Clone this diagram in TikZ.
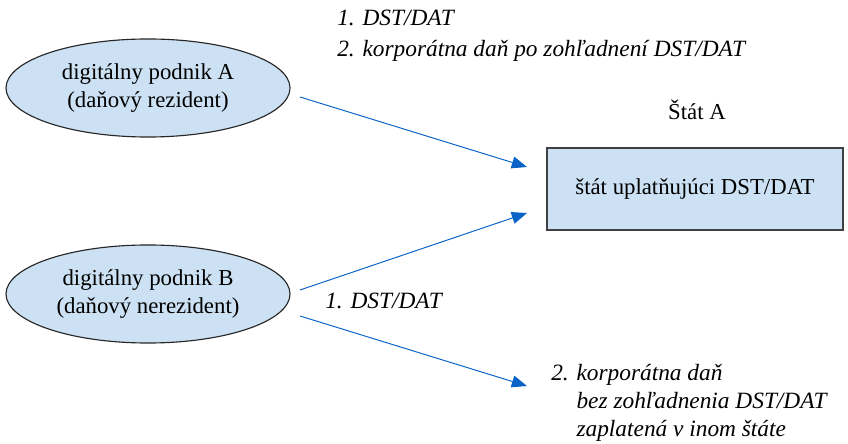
\documentclass[tikz,border=0pt]{standalone}
\usepackage{fontspec}
\setmainfont{Liberation Serif}
\usepackage{xcolor}
\usetikzlibrary{arrows.meta, positioning, shapes.geometric}

\definecolor{boxfill}{RGB}{204,225,243}
\definecolor{arrowblue}{RGB}{10,100,200}

\tikzset{
    firm/.style={ellipse, draw=black!85, fill=boxfill, line width=0.8pt,
        minimum width=7.1cm, minimum height=2.45cm, inner sep=0pt, align=center},
    state/.style={rectangle, draw=black!75, fill=boxfill, line width=0.8pt,
        minimum width=7.4cm, minimum height=2.05cm, inner sep=0pt},
    flow/.style={arrowblue, line width=0.7pt, -{Triangle[length=0.38cm, width=0.3cm]}},
    note/.style={font=\fontsize{16.6}{19.8}\selectfont\itshape, inner sep=0pt, align=left}
}

\begin{document}
\begin{tikzpicture}[x=0.025cm, y=-0.025cm, font=\fontsize{16.2}{19.8}\selectfont]
    \useasboundingbox (0,0) rectangle (848,444);

    % Digital firms
    \node[firm] (firmA) at (148,88) {digitálny podnik A\\(daňový rezident)};
    \node[firm] (firmB) at (148,294) {digitálny podnik B\\(daňový nerezident)};

    % State A
    \node[state] (stateA) at (695,189) {štát uplatňujúci DST/DAT};
    \node (titleA) at (697,110) {Štát A};

    % Arrow ends
    \coordinate (outA) at (300,97);
    \coordinate (outB) at (300,290);
    \coordinate (outC) at (300,316);
    \coordinate (inA) at (527,167);
    \coordinate (inB) at (527,213);
    \coordinate (other) at (527,386);

    \draw[flow] (outA) -- (inA);
    \draw[flow] (outB) -- (inB);
    \draw[flow] (outC) -- (other);

    % Labels
    \node[note, anchor=west] (noteA1) at (337,18) {1. DST/DAT};
    \node[note, anchor=west] (noteA2) at (337,51) {2. korporátna daň po zohľadnení DST/DAT};
    \node[note, anchor=west] (noteB1) at (325,301) {1. DST/DAT};
    \node[note, anchor=west] (noteB2) at (551,403)
        {2. korporátna daň\\\hphantom{2. }bez zohľadnenia DST/DAT\\\hphantom{2. }zaplatená v inom štáte};
\end{tikzpicture}
\end{document}
